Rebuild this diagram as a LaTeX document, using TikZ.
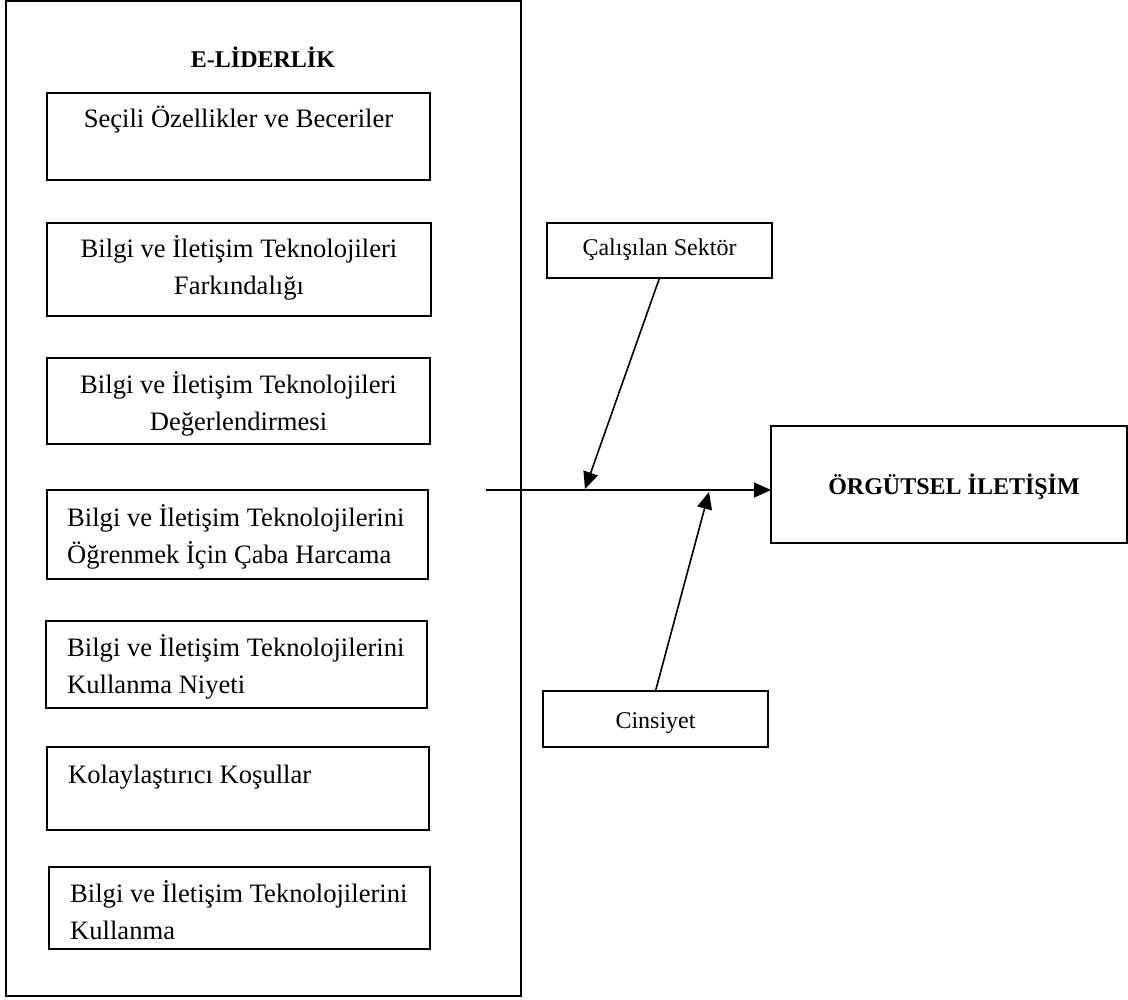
\documentclass[tikz,border=0pt]{standalone}
\usepackage{fontspec}
\setmainfont{Liberation Serif}
\usetikzlibrary{arrows.meta}
\newcommand{\twoc}[2]{\vtop{\halign{\hfil##\hfil\cr #1\cr #2\cr}}}
\newcommand{\twol}[2]{\vtop{\halign{##\hfil\cr #1\cr #2\cr}}}
\begin{document}
\begin{tikzpicture}[x=1pt,y=-1pt,
  box/.style={draw, line width=1.8pt, inner sep=0pt, outer sep=0pt},
  txt/.style={inner sep=0pt, font=\fontsize{26.6}{37}\selectfont},
  hdr/.style={inner sep=0pt, font=\fontsize{24}{29}\selectfont\bfseries},
  small/.style={inner sep=0pt, font=\fontsize{24}{29}\selectfont},
  conn/.style={line width=1.6pt, -{Triangle[length=17pt,width=15pt]}}]
\useasboundingbox (0,0) rectangle (1128,1000);
% outer frame
\node[box, minimum width=515pt, minimum height=995pt] (outer) at (263.5,498.5) {};
\node[hdr, anchor=base] (head) at (263,68) {E-LİDERLİK};
% inner boxes
\node[box, minimum width=383pt, minimum height=87pt] (b1) at (238.5,136.5) {};
\node[box, minimum width=384pt, minimum height=93pt] (b2) at (239,269.5) {};
\node[box, minimum width=383pt, minimum height=86pt] (b3) at (238.5,401) {};
\node[box, minimum width=381pt, minimum height=89pt] (b4) at (237.5,534.5) {};
\node[box, minimum width=381pt, minimum height=87pt] (b5) at (236.5,664.5) {};
\node[box, minimum width=382pt, minimum height=83pt] (b6) at (238,788.5) {};
\node[box, minimum width=381pt, minimum height=82pt] (b7) at (239.5,908) {};
% texts
\node[txt, anchor=base] (t1) at (238.5,128) {Seçili Özellikler ve Beceriler};
\node[txt, anchor=base] (t2) at (239,258) {\twoc{Bilgi ve İletişim Teknolojileri}{Farkındalığı}};
\node[txt, anchor=base] (t3) at (238.5,394) {\twoc{Bilgi ve İletişim Teknolojileri}{Değerlendirmesi}};
\node[txt, anchor=base west] (t4) at (67,526) {\twol{Bilgi ve İletişim Teknolojilerini}{Öğrenmek İçin Çaba Harcama}};
\node[txt, anchor=base west] (t5) at (67,656) {\twol{Bilgi ve İletişim Teknolojilerini}{Kullanma Niyeti}};
\node[txt, anchor=base west] (t6) at (68,783) {Kolaylaştırıcı Koşullar};
\node[txt, anchor=base west] (t7) at (70,902) {\twol{Bilgi ve İletişim Teknolojilerini}{Kullanma}};
% moderators and outcome
\node[box, minimum width=225pt, minimum height=55pt] (sektor) at (659.5,250.5) {};
\node[small, anchor=base] (tsektor) at (659.5,256) {Çalışılan Sektör};
\node[box, minimum width=225pt, minimum height=56pt] (cins) at (655.5,719) {};
\node[small, anchor=base] (tcins) at (655.5,728) {Cinsiyet};
\node[box, minimum width=356pt, minimum height=117pt] (target) at (949,484.5) {};
\node[hdr, anchor=base] (ttarget) at (954,494) {ÖRGÜTSEL İLETİŞİM};
% connectors
\coordinate (start) at (486,490);
\coordinate (m1) at (585,489);
\coordinate (m2) at (709,492);
\draw[conn] (start) -- (start -| target.west);
\draw[conn] (sektor.south) -- (m1);
\draw[conn] (cins.north) -- (m2);
\end{tikzpicture}
\end{document}
